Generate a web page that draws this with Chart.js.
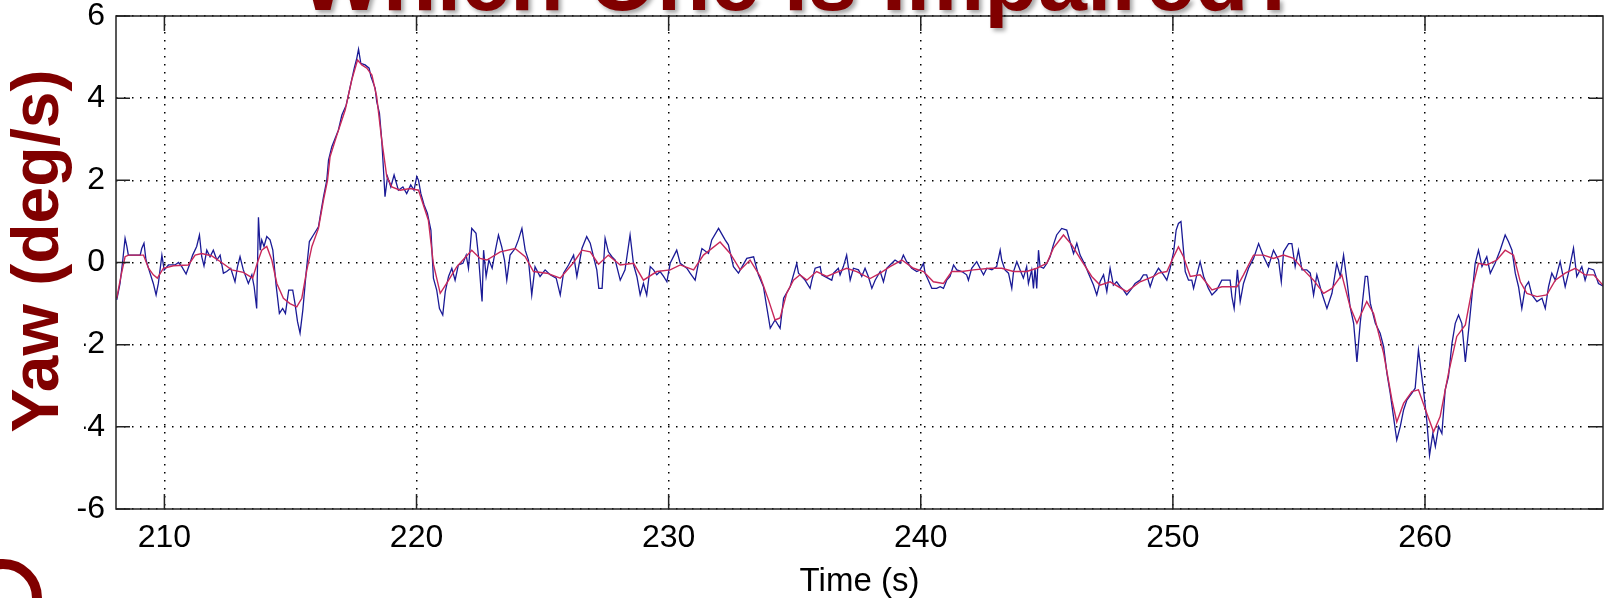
<!DOCTYPE html>
<html>
<head>
<meta charset="utf-8">
<title>Yaw rate</title>
<script src="https://cdn.jsdelivr.net/npm/chart.js@4.4.1/dist/chart.umd.min.js"></script>
<style>
  html, body { margin: 0; padding: 0; background: #fff; overflow: hidden; }
  #wrap { width: 1604px; height: 606px; }
</style>
</head>
<body>
<div id="wrap"><canvas id="yaw-chart" width="1604" height="606"></canvas></div>
<script>
// raw gyro yaw rate (deg/s) against time (s)
var rawTime = [
  208.11,208.24,208.35,208.44,208.51,208.57,209.04,209.10,209.19,209.27,209.43,209.56,209.67,209.76,209.90,209.99,
  210.16,210.42,210.56,210.69,210.86,210.99,211.12,211.28,211.39,211.48,211.57,211.68,211.81,211.94,212.08,212.21,
  212.34,212.47,212.63,212.80,212.90,213.00,213.13,213.33,213.47,213.56,213.66,213.73,213.80,213.86,213.95,214.06,
  214.19,214.30,214.43,214.56,214.69,214.80,214.93,215.09,215.18,215.28,215.38,215.49,215.62,215.75,215.91,216.11,
  216.20,216.31,216.44,216.51,216.64,216.77,216.90,217.04,217.21,217.37,217.53,217.63,217.70,217.79,217.96,218.12,
  218.19,218.36,218.42,218.53,218.62,218.69,218.75,218.85,218.98,219.11,219.28,219.46,219.61,219.77,219.90,220.01,
  220.08,220.17,220.30,220.43,220.57,220.67,220.80,220.91,221.04,221.14,221.27,221.40,221.53,221.66,221.84,221.97,
  222.06,222.19,222.36,222.46,222.55,222.60,222.66,222.76,222.87,223.00,223.13,223.25,223.38,223.49,223.58,223.71,
  223.91,224.04,224.18,224.31,224.44,224.57,224.70,224.90,225.10,225.30,225.54,225.70,225.83,226.03,226.23,226.36,
  226.56,226.75,226.89,227.02,227.15,227.23,227.36,227.48,227.61,227.75,227.88,228.08,228.27,228.47,228.61,228.74,
  228.87,229.00,229.13,229.27,229.40,229.53,229.66,229.80,229.93,230.06,230.32,230.46,230.72,230.85,231.05,231.18,
  231.32,231.58,231.71,231.98,232.24,232.37,232.57,232.77,233.10,233.37,233.56,233.76,233.89,234.03,234.22,234.42,
  234.56,234.82,235.08,235.15,235.41,235.61,235.68,235.81,236.01,236.07,236.47,236.54,236.73,236.80,236.93,237.06,
  237.20,237.33,237.53,237.66,237.79,237.92,238.06,238.19,238.39,238.52,238.65,238.85,238.98,239.18,239.31,239.44,
  239.64,239.84,239.97,240.11,240.17,240.30,240.44,240.63,240.77,240.90,241.03,241.16,241.30,241.43,241.63,241.82,
  241.89,242.02,242.22,242.35,242.49,242.62,242.82,243.01,243.15,243.21,243.34,243.48,243.61,243.68,243.81,243.94,
  244.07,244.20,244.27,244.40,244.47,244.53,244.60,244.67,244.73,244.87,245.00,245.13,245.26,245.39,245.59,245.79,
  245.92,246.06,246.19,246.32,246.52,246.65,246.85,246.98,247.11,247.25,247.38,247.51,247.64,247.77,247.91,248.04,
  248.17,248.37,248.50,248.70,248.83,248.96,249.10,249.23,249.43,249.63,249.76,249.89,250.03,250.13,250.22,250.32,
  250.42,250.49,250.62,250.75,250.82,250.95,251.08,251.22,251.41,251.55,251.74,251.94,252.27,252.34,252.43,252.56,
  252.67,252.80,253.00,253.20,253.40,253.60,253.79,253.99,254.19,254.30,254.39,254.59,254.72,254.85,254.98,255.12,
  255.31,255.45,255.58,255.71,255.91,256.11,256.31,256.50,256.64,256.77,256.90,257.03,257.17,257.30,257.43,257.63,
  257.72,257.83,258.03,258.22,258.36,258.49,258.62,258.75,258.88,259.02,259.15,259.28,259.48,259.61,259.74,259.84,
  259.94,260.07,260.18,260.31,260.41,260.54,260.67,260.80,260.93,261.07,261.20,261.33,261.46,261.60,261.73,261.86,
  261.99,262.12,262.26,262.45,262.59,262.78,262.98,263.18,263.31,263.45,263.58,263.71,263.84,263.98,264.11,264.24,
  264.44,264.64,264.77,264.90,265.03,265.17,265.36,265.56,265.69,265.89,266.02,266.22,266.35,266.49,266.69,266.88,
  267.11
];
var rawYaw = [
  -0.91,-0.51,0.06,0.59,0.39,0.18,0.18,0.34,0.47,0.06,-0.26,-0.51,-0.79,-0.51,0.18,-0.18,
  -0.06,-0.06,0.00,-0.10,-0.28,-0.06,0.18,0.39,0.67,0.14,-0.08,0.30,0.14,0.30,0.06,0.18,
  -0.26,-0.22,-0.14,-0.47,-0.10,0.14,-0.18,-0.51,-0.30,-0.59,-1.12,1.10,0.30,0.55,0.39,0.63,
  0.55,0.30,-0.55,-1.24,-1.12,-1.24,-0.67,-0.67,-1.00,-1.44,-1.72,-1.16,-0.26,0.51,0.67,0.87,
  1.20,1.60,2.00,2.49,2.82,3.02,3.22,3.59,3.83,4.28,4.73,4.97,5.19,4.85,4.81,4.73,
  4.53,4.24,3.92,3.63,2.98,2.25,1.60,2.09,1.84,2.13,1.76,1.84,1.68,1.89,1.76,2.09,
  2.00,1.68,1.40,1.20,0.79,-0.38,-0.67,-1.12,-1.28,-0.71,-0.34,-0.14,-0.43,-0.06,-0.02,0.18,
  -0.14,0.83,0.71,0.14,-0.59,-0.95,0.30,-0.34,0.06,-0.14,0.30,0.67,0.38,0.06,-0.43,0.18,
  0.34,0.55,0.83,0.30,0.06,-0.79,-0.10,-0.34,-0.18,-0.30,-0.38,-0.79,-0.26,-0.06,0.18,-0.34,
  0.34,0.63,0.47,0.14,-0.18,-0.63,-0.63,0.59,0.26,0.14,0.06,-0.43,-0.18,0.67,-0.06,-0.34,
  -0.79,-0.51,-0.79,-0.10,-0.18,-0.30,-0.22,-0.34,-0.47,-0.02,0.30,-0.02,-0.14,-0.26,-0.43,-0.02,
  0.34,0.22,0.55,0.83,0.55,0.43,-0.10,-0.26,0.10,0.14,-0.30,-0.59,-1.08,-1.60,-1.40,-1.60,
  -0.87,-0.59,-0.02,-0.26,-0.43,-0.63,-0.43,-0.14,-0.10,-0.30,-0.43,-0.26,-0.14,-0.30,-0.10,0.18,
  -0.43,-0.14,-0.18,-0.34,-0.14,-0.34,-0.63,-0.43,-0.22,-0.47,-0.14,-0.02,0.06,-0.02,0.18,0.02,
  -0.14,-0.22,-0.18,-0.02,-0.26,-0.43,-0.63,-0.63,-0.59,-0.63,-0.43,-0.34,-0.06,-0.18,-0.22,-0.30,
  -0.43,-0.14,0.02,-0.14,-0.30,-0.14,-0.18,-0.10,0.30,0.06,-0.18,-0.26,-0.63,-0.22,0.02,-0.18,
  -0.38,-0.10,-0.51,-0.18,-0.63,-0.14,-0.63,0.30,-0.10,-0.14,-0.02,0.14,0.43,0.67,0.83,0.79,
  0.51,0.22,0.47,0.18,-0.06,-0.26,-0.55,-0.79,-0.47,-0.30,-0.71,-0.14,-0.55,-0.47,-0.59,-0.67,
  -0.79,-0.63,-0.51,-0.43,-0.30,-0.30,-0.59,-0.35,-0.14,-0.30,-0.43,-0.14,0.26,0.79,0.95,1.00,
  0.30,-0.22,-0.43,-0.43,-0.63,-0.30,0.02,-0.34,-0.63,-0.79,-0.67,-0.43,-0.43,-0.83,-1.12,-0.18,
  -0.95,-0.51,-0.14,0.10,0.46,0.14,-0.10,0.30,0.06,-0.47,0.26,0.46,0.46,-0.10,0.30,-0.18,
  -0.18,-0.26,-0.79,-0.30,-0.75,-1.12,-0.75,-0.02,-0.34,0.18,-0.43,-1.08,-1.48,-2.42,-1.48,-0.34,
  -0.34,-0.99,-1.48,-1.72,-2.05,-2.70,-3.18,-3.75,-4.32,-3.99,-3.59,-3.35,-3.18,-3.06,-2.13,-2.62,
  -3.10,-3.84,-4.69,-4.16,-4.48,-3.99,-4.16,-3.10,-2.78,-1.97,-1.48,-1.28,-1.48,-2.42,-1.64,-0.83,
  -0.02,0.30,-0.10,0.14,-0.26,-0.02,0.30,0.67,0.51,0.30,-0.26,-0.59,-1.12,-0.59,-0.47,-0.79,
  -0.95,-0.87,-1.12,-0.59,-0.26,-0.43,0.02,-0.59,-0.26,0.35,-0.34,-0.10,-0.43,-0.14,-0.18,-0.51,
  -0.59
];

// filtered yaw rate
var smoothTime = [
  208.11,208.27,208.44,208.57,209.17,209.37,209.56,209.72,209.96,210.36,210.95,211.22,211.48,211.88,212.27,212.67,
  213.13,213.50,213.69,213.86,214.06,214.26,214.46,214.72,214.98,215.25,215.45,215.65,215.85,216.11,216.31,216.47,
  216.57,216.84,217.17,217.43,217.66,217.83,218.03,218.23,218.42,218.62,218.82,219.02,219.35,219.75,220.08,220.47,
  220.67,220.94,221.20,221.60,222.19,222.52,222.79,223.32,223.91,224.31,224.64,225.17,225.70,226.23,226.56,226.89,
  227.22,227.61,228.08,228.61,229.00,229.53,230.06,230.46,230.99,231.38,232.04,232.44,232.84,233.23,233.63,233.96,
  234.22,234.42,234.68,234.95,235.21,235.48,235.87,236.27,236.73,237.06,237.46,237.99,238.39,238.78,239.25,239.71,
  240.11,240.50,240.90,241.23,241.63,242.09,242.75,243.21,243.68,244.20,244.60,245.00,245.26,245.66,245.99,246.32,
  246.78,247.11,247.51,248.17,248.70,249.23,249.43,249.76,250.03,250.22,250.42,250.69,251.08,251.55,251.94,252.54,
  252.80,253.20,253.60,253.99,254.39,254.79,255.18,255.58,255.98,256.31,256.70,257.03,257.30,257.69,257.96,258.36,
  258.69,258.88,259.15,259.48,259.74,260.07,260.34,260.60,260.93,261.26,261.60,261.86,262.12,262.45,262.85,263.18,
  263.51,263.78,264.04,264.44,264.83,265.17,265.56,265.96,266.35,266.69,267.11
];
var smoothYaw = [
  -0.87,-0.35,0.14,0.18,0.18,-0.14,-0.30,-0.38,-0.14,-0.08,-0.06,0.18,0.22,0.16,0.00,-0.18,
  -0.24,-0.38,0.00,0.30,0.39,0.06,-0.51,-0.87,-1.00,-1.08,-0.87,-0.18,0.39,0.83,1.52,2.00,
  2.57,3.10,3.71,4.44,4.93,4.81,4.73,4.56,4.04,2.98,2.09,1.84,1.76,1.80,1.76,1.03,
  -0.04,-0.75,-0.50,-0.10,0.30,0.10,0.06,0.26,0.34,0.14,-0.22,-0.26,-0.38,0.00,0.30,0.26,
  -0.04,0.18,-0.06,-0.02,-0.43,-0.22,-0.18,-0.06,-0.18,0.18,0.50,0.22,-0.18,0.06,-0.34,-0.91,
  -1.40,-1.35,-0.75,-0.43,-0.30,-0.43,-0.22,-0.34,-0.22,-0.14,-0.22,-0.39,-0.26,-0.10,0.06,-0.14,
  -0.22,-0.47,-0.51,-0.22,-0.22,-0.18,-0.14,-0.14,-0.22,-0.22,-0.14,-0.02,0.35,0.67,0.43,0.10,
  -0.34,-0.55,-0.47,-0.71,-0.47,-0.34,-0.26,-0.22,0.14,0.38,0.14,-0.34,-0.30,-0.67,-0.59,-0.59,
  -0.30,0.18,0.18,0.10,0.18,0.10,-0.18,-0.43,-0.75,-0.63,-0.30,-1.08,-1.48,-0.95,-1.24,-2.21,
  -3.35,-3.88,-3.43,-3.14,-3.10,-3.67,-4.12,-3.75,-2.70,-1.80,-1.52,-0.67,-0.02,-0.06,0.06,0.30,
  0.18,-0.47,-0.75,-0.83,-0.79,-0.43,-0.26,-0.14,-0.30,-0.30,-0.59
];

var xTicks = [210, 220, 230, 240, 250, 260];
var yTicks = [-6, -4, -2, 0, 2, 4, 6];
var xLabel = 'Time (s)';
var yLabel = 'Yaw (deg/s)';
var slideTitle = 'Which One is Impaired?';

var darkRed = '#800000';
var tickFont = { family: '"Liberation Sans", Arial, sans-serif', size: 32 };

function toPoints(ts, vs) {
  return ts.map(function (t, i) { return { x: t, y: vs[i] }; });
}

// matlab style box with inward ticks, plus the slide text around the axes
var framePlugin = {
  id: 'frame',
  afterDatasetsDraw: function (chart) {
    var ctx = chart.ctx, a = chart.chartArea;
    var sx = chart.scales.x, sy = chart.scales.y;
    ctx.save();
    ctx.strokeStyle = '#222';
    ctx.lineWidth = 1.5;
    ctx.strokeRect(a.left, a.top, a.right - a.left, a.bottom - a.top);
    ctx.beginPath();
    xTicks.forEach(function (v) {
      var px = sx.getPixelForValue(v);
      ctx.moveTo(px, a.bottom); ctx.lineTo(px, a.bottom - 15);
      ctx.moveTo(px, a.top); ctx.lineTo(px, a.top + 15);
    });
    yTicks.forEach(function (v) {
      var py = sy.getPixelForValue(v);
      ctx.moveTo(a.left, py); ctx.lineTo(a.left + 14, py);
      ctx.moveTo(a.right, py); ctx.lineTo(a.right - 14, py);
    });
    ctx.stroke();
    ctx.restore();
  },
  afterDraw: function (chart) {
    var ctx = chart.ctx;
    ctx.save();
    // text box of the y label sits over the minus signs
    ctx.fillStyle = '#fff';
    ctx.fillRect(0, 300, 84, 150);

    ctx.fillStyle = darkRed;
    ctx.font = 'bold 66px "Liberation Sans", Arial, sans-serif';
    ctx.textAlign = 'center';
    ctx.textBaseline = 'alphabetic';
    ctx.save();
    ctx.translate(58, 251);
    ctx.rotate(-Math.PI / 2);
    ctx.fillText(yLabel, 0, 0);
    ctx.restore();

    // piece of a ring from the slide below
    ctx.strokeStyle = darkRed;
    ctx.lineWidth = 10;
    ctx.beginPath();
    ctx.arc(3, 598, 34, Math.PI, 2 * Math.PI);
    ctx.stroke();

    ctx.shadowColor = 'rgba(0,0,0,0.35)';
    ctx.shadowOffsetX = 3;
    ctx.shadowOffsetY = 3;
    ctx.shadowBlur = 4;
    ctx.font = 'bold 88px "Liberation Sans", Arial, sans-serif';
    ctx.fillText(slideTitle, 801, 10);
    ctx.restore();
  }
};

var ctx = document.getElementById('yaw-chart').getContext('2d');
new Chart(ctx, {
  type: 'line',
  data: {
    datasets: [{
      label: 'filtered',
      data: toPoints(smoothTime, smoothYaw),
      borderColor: '#c8285a',
      borderWidth: 1.4,
      pointRadius: 0,
      tension: 0,
      fill: false
    }, {
      label: 'raw',
      data: toPoints(rawTime, rawYaw),
      borderColor: '#1a1a96',
      borderWidth: 1.3,
      pointRadius: 0,
      tension: 0,
      fill: false
    }]
  },
  options: {
    responsive: false,
    animation: false,
    events: [],
    layout: { padding: { top: 16, right: 1, left: 0, bottom: 0 } },
    plugins: {
      legend: { display: false },
      tooltip: { enabled: false }
    },
    scales: {
      x: {
        type: 'linear',
        min: 208.08,
        max: 267.06,
        afterBuildTicks: function (scale) {
          scale.ticks = xTicks.map(function (v) { return { value: v }; });
        },
        afterFit: function (scale) {
          scale.height = 97;
          scale.paddingLeft = 0; scale.paddingRight = 0;
        },
        grid: { color: '#000', lineWidth: 1.5, drawTicks: false },
        border: { display: false, dash: [1.5, 6.5] },
        ticks: { color: '#000', padding: 10, font: tickFont, maxRotation: 0, autoSkip: false },
        title: {
          display: true,
          text: xLabel,
          color: '#000',
          font: { family: tickFont.family, size: 33 },
          padding: { top: 0, bottom: 4 }
        }
      },
      y: {
        type: 'linear',
        min: -6,
        max: 6,
        afterBuildTicks: function (scale) {
          scale.ticks = yTicks.map(function (v) { return { value: v }; });
        },
        afterFit: function (scale) {
          scale.width = 116;
          scale.paddingTop = 0; scale.paddingBottom = 0;
        },
        grid: { color: '#000', lineWidth: 1.5, drawTicks: false },
        border: { display: false, dash: [1.5, 6.5] },
        ticks: { color: '#000', padding: 11, font: tickFont }
      }
    }
  },
  plugins: [framePlugin]
});
</script>
</body>
</html>
